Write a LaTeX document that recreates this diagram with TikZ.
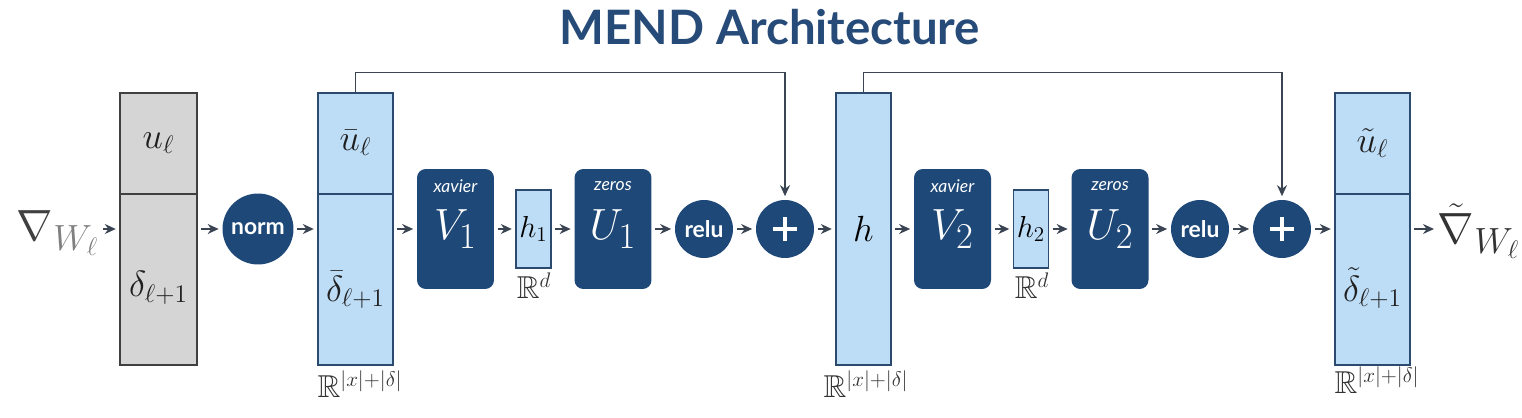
\documentclass[tikz,border=0pt]{standalone}
\usepackage{amsmath,amssymb}
\usepackage{fontspec}
\setsansfont{Lato}
\usetikzlibrary{positioning,arrows.meta}
\definecolor{mendnavy}{HTML}{1E4877}
\definecolor{mendlight}{HTML}{BDDCF6}
\definecolor{mendedge}{HTML}{2B4A6E}
\definecolor{mendgray}{HTML}{D5D5D5}
\definecolor{mendtitle}{HTML}{264B78}
\definecolor{mendarrow}{HTML}{3A4452}
\tikzset{
  vecg/.style  = {rectangle, draw=black!75, fill=mendgray, thick,
                  minimum width=1.54cm, minimum height=5.44cm, inner sep=0pt},
  vecb/.style  = {rectangle, draw=mendedge, fill=mendlight, thick,
                  minimum width=1.5cm, minimum height=5.44cm, inner sep=0pt,
                  font=\fontsize{22}{24}\selectfont},
  hid/.style   = {rectangle, draw=mendedge, fill=mendlight, thick,
                  minimum width=0.7cm, minimum height=1.56cm, inner sep=0pt,
                  font=\fontsize{17}{19}\selectfont},
  layer/.style = {rectangle, rounded corners=5pt, fill=mendnavy, text=white,
                  minimum width=1.54cm, minimum height=2.4cm, inner sep=0pt,
                  font=\fontsize{31}{34}\selectfont},
  init/.style  = {text=white, inner sep=0pt,
                  font=\sffamily\itshape\fontsize{10}{12}\selectfont},
  op/.style    = {circle, fill=mendnavy, text=white, minimum size=1.16cm,
                  inner sep=0pt, font=\sffamily\bfseries\fontsize{13}{15}\selectfont},
  lbl/.style   = {text=black!88, inner sep=0pt, font=\fontsize{22}{24}\selectfont},
  dim/.style   = {text=black!80, inner sep=0pt, font=\fontsize{18}{20}\selectfont},
  flow/.style  = {-{Stealth[length=2.2mm, width=2mm]}, line width=0.8pt, mendarrow,
                  shorten <=2pt, shorten >=2pt},
}
\begin{document}
\begin{tikzpicture}[x=0.02cm, y=-0.02cm, >=Stealth]
  \useasboundingbox (0,0) rectangle (1522,418);

  % title
  \node[font=\sffamily\bfseries\fontsize{27}{32}\selectfont, text=mendtitle] (title) at (770,27) {MEND Architecture};

  % input gradient
  \node[inner sep=0pt, text=black!75, font=\fontsize{29}{32}\selectfont] (gin) at (58,233)
    {$\nabla_{\textcolor{black!50}{W_\ell}}$};
  \node[vecg] (vin) at (158.5,229) {};
  \draw[black!75, thick] (vin.west |- 0,194) -- (vin.east |- 0,194);
  \node[lbl] (uin) at (158.5,143) {$u_\ell$};
  \node[lbl] (din) at (158.5,288) {$\delta_{\ell+1}$};

  \node[op, minimum size=1.42cm] (nrm) at (258,229) {norm};

  % normalised input
  \node[vecb] (vbar) at (355.5,229) {};
  \draw[mendedge, thick] (vbar.west |- 0,194) -- (vbar.east |- 0,194);
  \node[lbl] (ubar) at (355.5,143) {$\bar{u}_\ell$};
  \node[lbl] (dbar) at (355.5,290) {$\bar{\delta}_{\ell+1}$};
  \node[dim] (rbar) at (360,384) {$\mathbb{R}^{|x|+|\delta|}$};

  % first block
  \node[layer] (V1) at (455.5,229) {$V_1$};
  \node[init] (xv1) at (455.5,186) {xavier};
  \node[hid] (h1) at (533.5,229) {$h_1$};
  \node[dim] (rd1) at (534,286) {$\mathbb{R}^d$};
  \node[layer] (U1) at (613,229) {$U_1$};
  \node[init] (zr1) at (613,186) {zeros};
  \node[op] (relu1) at (704,229) {relu};
  \node[op] (add1) at (785,229) {};
  \draw[white, line width=2.4pt] ([xshift=-12*0.02cm]add1.center) -- ([xshift=12*0.02cm]add1.center)
                                 ([yshift=12*0.02cm]add1.center) -- ([yshift=-12*0.02cm]add1.center);

  \node[vecb, minimum width=1.1cm] (hmid) at (863.5,229) {$h$};
  \node[dim] (rmid) at (866,384) {$\mathbb{R}^{|x|+|\delta|}$};

  % second block
  \node[layer] (V2) at (952.5,229) {$V_2$};
  \node[init] (xv2) at (952.5,186) {xavier};
  \node[hid] (h2) at (1031,229) {$h_2$};
  \node[dim] (rd2) at (1032,286) {$\mathbb{R}^d$};
  \node[layer] (U2) at (1110,229) {$U_2$};
  \node[init] (zr2) at (1110,186) {zeros};
  \node[op] (relu2) at (1200,229) {relu};
  \node[op] (add2) at (1282,229) {};
  \draw[white, line width=2.4pt] ([xshift=-12*0.02cm]add2.center) -- ([xshift=12*0.02cm]add2.center)
                                 ([yshift=12*0.02cm]add2.center) -- ([yshift=-12*0.02cm]add2.center);

  % output
  \node[vecb] (vout) at (1372.5,229) {};
  \draw[mendedge, thick] (vout.west |- 0,194) -- (vout.east |- 0,194);
  \node[lbl] (utl) at (1372.5,143) {$\tilde{u}_\ell$};
  \node[lbl] (dtl) at (1372.5,288) {$\tilde{\delta}_{\ell+1}$};
  \node[dim] (rout) at (1377,380) {$\mathbb{R}^{|x|+|\delta|}$};
  \node[inner sep=0pt, text=black!80, font=\fontsize{29}{32}\selectfont] (gout) at (1479,231)
    {$\tilde{\nabla}_{W_\ell}$};

  % connectors
  \draw[flow] (gin.east |- vin) -- (vin);
  \foreach \a/\b in {vin/nrm, nrm/vbar, vbar/V1, V1/h1, h1/U1, U1/relu1, relu1/add1,
                     add1/hmid, hmid/V2, V2/h2, h2/U2, U2/relu2, relu2/add2, add2/vout}
    \draw[flow] (\a) -- (\b);
  \draw[flow] (vout) -- (gout.west |- vout);

  % skip connections
  \draw[flow, shorten <=0pt] (vbar.north) -- ++(0,-20) -| (add1.north);
  \draw[flow, shorten <=0pt] (hmid.north) -- ++(0,-20) -| (add2.north);
\end{tikzpicture}
\end{document}
